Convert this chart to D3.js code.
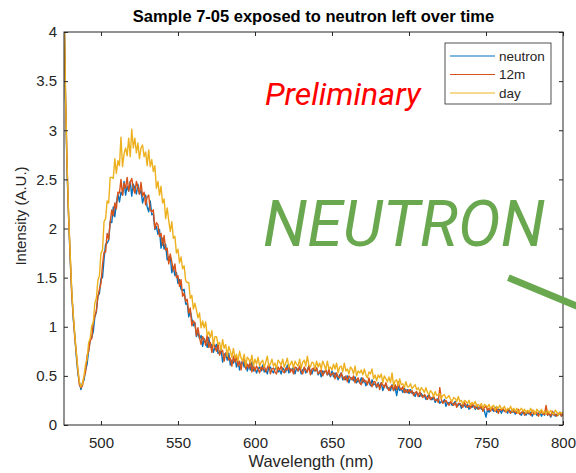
<!DOCTYPE html>
<html>
<head>
<meta charset="utf-8">
<script src="https://cdn.jsdelivr.net/npm/d3@7"></script>
<style>
  body { margin: 0; background: #fff; }
  svg { display: block; font-family: "Liberation Sans", Arial, Helvetica, sans-serif; }
</style>
</head>
<body>
<svg width="576" height="473"></svg>
<script>
// **** Data (one value per nm, 476..800) ****
var startNm = 476, endNm = 800;

var neutron = [
  4.30, 3.31, 2.58, 2.12, 1.69, 1.36, 1.08, 0.91, 0.70, 0.53, 0.43, 0.36, 0.43, 0.46,
  0.56, 0.62, 0.76, 0.86, 0.89, 0.95, 1.10, 1.15, 1.31, 1.34,
  1.49, 1.50, 1.69, 1.84, 1.85, 1.88, 2.07, 2.06, 2.22, 2.12,
  2.26, 2.35, 2.27, 2.37, 2.34, 2.48, 2.34, 2.43, 2.38, 2.48,
  2.33, 2.45, 2.41, 2.35, 2.45, 2.35, 2.39, 2.26, 2.32, 2.34,
  2.22, 2.17, 2.28, 2.14, 2.15, 1.99, 2.02, 1.94, 1.99, 1.80,
  1.90, 1.79, 1.84, 1.68, 1.71, 1.72, 1.55, 1.61, 1.52, 1.55,
  1.44, 1.48, 1.38, 1.37, 1.38, 1.23, 1.24, 1.10, 1.16, 1.08,
  1.01, 1.04, 0.90, 0.94, 0.88, 0.91, 0.80, 0.88, 0.84, 0.79,
  0.89, 0.79, 0.82, 0.74, 0.79, 0.82, 0.73, 0.74, 0.77, 0.64,
  0.72, 0.73, 0.66, 0.73, 0.61, 0.66, 0.63, 0.69, 0.59, 0.65,
  0.56, 0.63, 0.65, 0.59, 0.65, 0.55, 0.61, 0.56, 0.64, 0.55,
  0.58, 0.53, 0.57, 0.59, 0.55, 0.61, 0.54, 0.57, 0.52, 0.59,
  0.59, 0.55, 0.53, 0.57, 0.59, 0.54, 0.56, 0.52, 0.58, 0.56,
  0.54, 0.61, 0.53, 0.57, 0.56, 0.59, 0.52, 0.58, 0.55, 0.59,
  0.52, 0.56, 0.58, 0.53, 0.56, 0.60, 0.54, 0.52, 0.57, 0.55,
  0.58, 0.51, 0.55, 0.49, 0.55, 0.53, 0.56, 0.51, 0.53, 0.49,
  0.55, 0.49, 0.53, 0.50, 0.46, 0.51, 0.53, 0.46, 0.49, 0.46,
  0.50, 0.43, 0.48, 0.48, 0.45, 0.49, 0.43, 0.46, 0.43, 0.48,
  0.43, 0.46, 0.40, 0.43, 0.44, 0.40, 0.46, 0.41, 0.42, 0.38,
  0.43, 0.39, 0.43, 0.35, 0.40, 0.41, 0.37, 0.38, 0.35, 0.41,
  0.35, 0.38, 0.30, 0.39, 0.35, 0.37, 0.33, 0.38, 0.33, 0.36,
  0.32, 0.36, 0.32, 0.33, 0.29, 0.33, 0.31, 0.29, 0.32, 0.29,
  0.30, 0.26, 0.29, 0.31, 0.26, 0.26, 0.28, 0.23, 0.26, 0.27,
  0.22, 0.24, 0.23, 0.26, 0.19, 0.23, 0.22, 0.23, 0.20, 0.22,
  0.24, 0.19, 0.20, 0.22, 0.17, 0.22, 0.20, 0.18, 0.21, 0.16,
  0.19, 0.18, 0.20, 0.16, 0.18, 0.16, 0.20, 0.16, 0.18, 0.14,
  0.08, 0.16, 0.13, 0.17, 0.16, 0.14, 0.18, 0.13, 0.16, 0.15,
  0.12, 0.16, 0.14, 0.15, 0.12, 0.16, 0.13, 0.13, 0.15, 0.11,
  0.13, 0.15, 0.11, 0.10, 0.14, 0.12, 0.10, 0.14, 0.11, 0.13,
  0.09, 0.12, 0.13, 0.10, 0.11, 0.14, 0.09, 0.12, 0.10, 0.14,
  0.10, 0.12, 0.08, 0.11, 0.13, 0.09, 0.11, 0.10, 0.13, 0.09,
  0.11
];

var twelveMin = [
  4.30, 3.34, 2.63, 2.11, 1.73, 1.33, 1.12, 0.89, 0.73, 0.56, 0.41, 0.38, 0.40, 0.49,
  0.54, 0.71, 0.75, 0.86, 0.88, 1.04, 1.11, 1.16, 1.31, 1.38,
  1.44, 1.63, 1.76, 1.76, 1.95, 1.89, 2.07, 2.19, 2.13, 2.26,
  2.20, 2.37, 2.36, 2.50, 2.34, 2.46, 2.41, 2.52, 2.38, 2.47,
  2.51, 2.41, 2.36, 2.48, 2.42, 2.35, 2.47, 2.33, 2.37, 2.24,
  2.32, 2.34, 2.19, 2.17, 2.19, 2.00, 2.06, 2.04, 1.92, 1.95,
  1.83, 1.93, 1.78, 1.80, 1.64, 1.74, 1.66, 1.57, 1.64, 1.50,
  1.52, 1.41, 1.48, 1.31, 1.34, 1.26, 1.28, 1.14, 1.19, 1.01,
  1.06, 1.04, 0.91, 0.99, 0.89, 0.82, 0.90, 0.87, 0.81, 0.92,
  0.79, 0.84, 0.74, 0.84, 0.79, 0.75, 0.83, 0.71, 0.75, 0.76,
  0.65, 0.73, 0.75, 0.66, 0.68, 0.60, 0.70, 0.64, 0.69, 0.60,
  0.65, 0.56, 0.66, 0.67, 0.57, 0.62, 0.58, 0.66, 0.54, 0.61,
  0.55, 0.60, 0.57, 0.53, 0.59, 0.56, 0.61, 0.54, 0.58, 0.62,
  0.52, 0.57, 0.58, 0.54, 0.52, 0.59, 0.56, 0.60, 0.55, 0.53,
  0.58, 0.56, 0.61, 0.54, 0.57, 0.52, 0.59, 0.58, 0.55, 0.60,
  0.55, 0.52, 0.59, 0.56, 0.54, 0.60, 0.51, 0.57, 0.58, 0.55,
  0.58, 0.52, 0.54, 0.56, 0.50, 0.54, 0.56, 0.51, 0.57, 0.50,
  0.52, 0.53, 0.47, 0.53, 0.49, 0.48, 0.53, 0.49, 0.46, 0.50,
  0.44, 0.50, 0.48, 0.46, 0.50, 0.43, 0.46, 0.48, 0.43, 0.41,
  0.48, 0.44, 0.45, 0.41, 0.48, 0.42, 0.39, 0.44, 0.44, 0.39,
  0.42, 0.36, 0.43, 0.41, 0.38, 0.43, 0.38, 0.35, 0.39, 0.40,
  0.35, 0.41, 0.36, 0.44, 0.38, 0.36, 0.39, 0.33, 0.36, 0.33,
  0.36, 0.33, 0.35, 0.30, 0.33, 0.34, 0.29, 0.34, 0.30, 0.28,
  0.31, 0.29, 0.26, 0.30, 0.26, 0.28, 0.29, 0.25, 0.26, 0.23,
  0.38, 0.26, 0.22, 0.24, 0.25, 0.22, 0.20, 0.24, 0.22, 0.20,
  0.23, 0.18, 0.22, 0.22, 0.20, 0.18, 0.23, 0.20, 0.18, 0.20,
  0.17, 0.21, 0.19, 0.17, 0.21, 0.16, 0.17, 0.19, 0.14, 0.18,
  0.19, 0.15, 0.17, 0.14, 0.18, 0.16, 0.14, 0.17, 0.12, 0.16,
  0.15, 0.17, 0.14, 0.13, 0.16, 0.14, 0.12, 0.16, 0.13, 0.14,
  0.12, 0.16, 0.11, 0.13, 0.14, 0.10, 0.14, 0.12, 0.13, 0.10,
  0.15, 0.11, 0.12, 0.13, 0.09, 0.12, 0.14, 0.11, 0.11, 0.20,
  0.10, 0.12, 0.09, 0.14, 0.10, 0.11, 0.09, 0.12, 0.12, 0.09,
  0.12
];

var day = [
  4.30, 3.36, 2.66, 2.15, 1.75, 1.38, 1.13, 0.92, 0.74, 0.57, 0.44, 0.39, 0.42, 0.50,
  0.62, 0.67, 0.84, 0.88, 1.01, 1.04, 1.24, 1.29, 1.47, 1.52,
  1.75, 1.78, 2.07, 2.10, 2.28, 2.26, 2.52, 2.52, 2.51, 2.71,
  2.56, 2.69, 2.64, 2.93, 2.63, 2.76, 2.82, 2.74, 2.92, 2.73,
  3.01, 2.82, 2.92, 2.77, 2.87, 2.71, 2.82, 2.85, 2.73, 2.78,
  2.64, 2.80, 2.63, 2.70, 2.58, 2.64, 2.41, 2.48, 2.34, 2.43,
  2.26, 2.30, 2.10, 2.21, 2.08, 1.97, 2.07, 1.90, 1.92, 1.75,
  1.79, 1.65, 1.71, 1.59, 1.62, 1.47, 1.45, 1.45, 1.29, 1.32,
  1.18, 1.24, 1.17, 1.09, 1.14, 0.99, 1.06, 0.99, 1.05, 0.91,
  0.95, 0.89, 0.96, 0.81, 0.90, 0.90, 0.82, 0.84, 0.76, 0.87,
  0.78, 0.82, 0.70, 0.80, 0.75, 0.69, 0.78, 0.68, 0.72, 0.65,
  0.75, 0.68, 0.65, 0.72, 0.60, 0.69, 0.67, 0.63, 0.71, 0.60,
  0.67, 0.62, 0.69, 0.60, 0.64, 0.66, 0.59, 0.64, 0.70, 0.60,
  0.62, 0.67, 0.60, 0.63, 0.57, 0.66, 0.64, 0.61, 0.67, 0.59,
  0.63, 0.68, 0.59, 0.62, 0.65, 0.58, 0.65, 0.62, 0.60, 0.67,
  0.58, 0.64, 0.66, 0.60, 0.70, 0.61, 0.59, 0.64, 0.63, 0.57,
  0.65, 0.59, 0.63, 0.57, 0.65, 0.61, 0.56, 0.65, 0.57, 0.59,
  0.56, 0.62, 0.57, 0.63, 0.53, 0.59, 0.60, 0.54, 0.63, 0.55,
  0.57, 0.52, 0.59, 0.57, 0.52, 0.60, 0.50, 0.55, 0.53, 0.56,
  0.51, 0.57, 0.51, 0.48, 0.54, 0.52, 0.57, 0.47, 0.51, 0.45,
  0.51, 0.48, 0.52, 0.43, 0.50, 0.47, 0.44, 0.49, 0.43, 0.53,
  0.40, 0.45, 0.46, 0.40, 0.47, 0.41, 0.42, 0.38, 0.44, 0.39,
  0.39, 0.42, 0.37, 0.39, 0.41, 0.36, 0.38, 0.34, 0.38, 0.36,
  0.33, 0.38, 0.33, 0.31, 0.35, 0.33, 0.29, 0.34, 0.30, 0.31,
  0.32, 0.27, 0.30, 0.31, 0.27, 0.28, 0.30, 0.26, 0.24, 0.28,
  0.27, 0.24, 0.29, 0.24, 0.25, 0.21, 0.25, 0.24, 0.22, 0.25,
  0.20, 0.23, 0.21, 0.24, 0.19, 0.21, 0.19, 0.22, 0.17, 0.21,
  0.20, 0.18, 0.21, 0.16, 0.19, 0.20, 0.15, 0.19, 0.17, 0.20,
  0.16, 0.17, 0.19, 0.14, 0.17, 0.16, 0.19, 0.14, 0.17, 0.14,
  0.17, 0.12, 0.15, 0.17, 0.14, 0.16, 0.12, 0.15, 0.13, 0.17,
  0.13, 0.15, 0.11, 0.16, 0.14, 0.12, 0.16, 0.12, 0.14, 0.11,
  0.15, 0.12, 0.15, 0.12, 0.11, 0.15, 0.13, 0.10, 0.13, 0.12,
  0.13
];

var seriesNames = ["neutron", "12m", "day"];
var seriesColors = ["#0072BD", "#D95319", "#EDB120"];
var xTicks = [500, 550, 600, 650, 700, 750, 800];
var yTicks = [0, 0.5, 1, 1.5, 2, 2.5, 3, 3.5, 4];

// **** Scales, axes and labels ****
var svg = d3.select('svg');
var axisColor = '#262626';

// plot box edges (window.top is reserved, so prefixed names)
var pLeft = 64, pRight = 563, pTop = 32, pBottom = 425;

var xScale = d3.scaleLinear().domain([startNm, endNm]).range([pLeft, pRight]);
var yScale = d3.scaleLinear().domain([0, 4]).range([pBottom, pTop]);

var wavelengths = d3.range(startNm, endNm + 1);

svg.append('defs').append('clipPath').attr('id', 'plotClip')
    .append('rect')
    .attr('x', pLeft).attr('y', pTop)
    .attr('width', pRight - pLeft).attr('height', pBottom - pTop);

// lines, drawn in the same order as the legend
var line = d3.line()
    .x(function (d) { return xScale(d[0]); })
    .y(function (d) { return yScale(d[1]); });

var plot = svg.append('g').attr('clip-path', 'url(#plotClip)');
[neutron, twelveMin, day].forEach(function (values, i) {
    var pts = wavelengths.map(function (w, k) { return [w, values[k]]; })
        .filter(function (p) { return p[1] !== undefined; });
    plot.append('path')
        .datum(pts)
        .attr('fill', 'none')
        .attr('stroke', seriesColors[i])
        .attr('stroke-width', 1.4)
        .attr('stroke-linejoin', 'round')
        .attr('d', line);
});

function styleAxis(g) {
    g.select('.domain').remove();
    g.selectAll('line').attr('stroke', axisColor);
    g.selectAll('text').attr('fill', axisColor).attr('font-size', '15px');
}

svg.append('g').attr('class', 'x axis')
    .attr('transform', 'translate(0,' + pBottom + ')')
    .call(d3.axisBottom(xScale).tickValues(xTicks).tickSize(-4).tickPadding(12))
    .call(styleAxis);

svg.append('g')
    .attr('transform', 'translate(0,' + pTop + ')')
    .call(d3.axisTop(xScale).tickValues(xTicks).tickSize(-4).tickFormat(''))
    .call(styleAxis);

svg.append('g').attr('class', 'y axis')
    .attr('transform', 'translate(' + pLeft + ',0)')
    .call(d3.axisLeft(yScale).tickValues(yTicks).tickSize(-4).tickPadding(7)
        .tickFormat(function (d) { return String(d); }))
    .call(styleAxis);

svg.append('g')
    .attr('transform', 'translate(' + pRight + ',0)')
    .call(d3.axisRight(yScale).tickValues(yTicks).tickSize(-4).tickFormat(''))
    .call(styleAxis);

svg.append('rect')
    .attr('x', pLeft).attr('y', pTop)
    .attr('width', pRight - pLeft).attr('height', pBottom - pTop)
    .attr('fill', 'none').attr('stroke', axisColor).attr('stroke-width', 1);

svg.append("text")
    .attr("class", "header label")
    .attr('x', (pLeft + pRight) / 2).attr('y', 22)
    .attr('text-anchor', 'middle')
    .attr('font-size', '16.5px')
    .attr('font-weight', 'bold')
    .attr('fill', '#000')
    .text("Sample 7-05 exposed to neutron left over time");

svg.append("text")
    .attr("class", "x axis label")
    .attr('x', 311).attr('y', 467)
    .attr('text-anchor', 'middle')
    .attr('font-size', '16.5px')
    .attr('fill', axisColor)
    .text("Wavelength (nm)");

svg.append("text")
    .attr("class", "y axis label")
    .attr('transform', 'translate(26, 216) rotate(-90)')
    .attr('text-anchor', 'middle')
    .attr('font-size', '15px')
    .attr('fill', axisColor)
    .text("Intensity (A.U.)");

// **** Legend ****
var legend = svg.append('g').attr('transform', 'translate(445,43)');
legend.append('rect')
    .attr('width', 106).attr('height', 61)
    .attr('fill', '#fff').attr('stroke', axisColor).attr('stroke-width', 0.8);
seriesNames.forEach(function (name, i) {
    var ly = 13 + i * 18.5;
    legend.append('line')
        .attr('x1', 5).attr('x2', 50).attr('y1', ly).attr('y2', ly)
        .attr('stroke', seriesColors[i]).attr('stroke-width', 1.2);
    legend.append('text')
        .attr('x', 54).attr('y', ly).attr('dy', '0.35em')
        .attr('font-size', '13.5px').attr('fill', axisColor)
        .text(name);
});

// **** Overlaid annotations ****
svg.append('text')
    .attr('x', 265).attr('y', 105)
    .attr('font-family', 'Roboto, sans-serif')
    .attr('font-style', 'italic')
    .attr('font-size', '32px')
    .attr('fill', '#ff0000')
    .text('Preliminary');

svg.append('text')
    .attr('x', 263).attr('y', 246)
    .attr('font-family', 'Roboto, sans-serif')
    .attr('font-style', 'italic')
    .attr('font-size', '64px')
    .attr('fill', '#6aa84f')
    .text('NEUTRON');

svg.append('line')
    .attr('x1', xScale(764.5)).attr('y1', yScale(1.50))
    .attr('x2', xScale(812)).attr('y2', yScale(1.19))
    .attr('stroke', '#6aa84f')
    .attr('stroke-width', 7);
</script>
</body>
</html>
